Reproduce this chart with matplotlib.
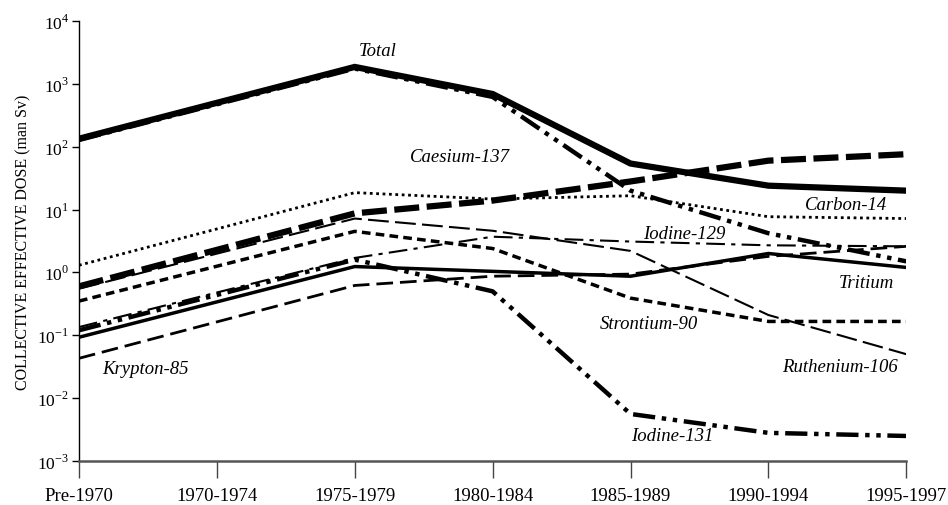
import matplotlib
matplotlib.use("Agg")
import matplotlib.pyplot as plt

plt.rcParams['font.family'] = ['Liberation Serif', 'DejaVu Serif']
plt.rcParams['mathtext.fontset'] = 'custom'
plt.rcParams['mathtext.rm'] = 'Liberation Serif'

periods = ['Pre-1970', '1970-1974', '1975-1979', '1980-1984',
           '1985-1989', '1990-1994', '1995-1997']
# no value for 1970-1974, lines run straight from Pre-1970 to 1975-1979
data_idx = [0, 2, 3, 4, 5, 6]

total = [134, 1860, 690, 54, 24, 20]
caesium137 = [128, 1750, 620, 20, 4.2, 1.5]
dotted = [1.3, 18.6, 14.7, 16.6, 7.7, 7.2]
heavy_dash = [0.6, 8.7, 13.9, 28, 60, 76]
ruthenium106 = [0.55, 7.2, 4.6, 2.2, 0.21, 0.05]
strontium90 = [0.35, 4.5, 2.4, 0.39, 0.166, 0.166]
iodine129 = [0.135, 1.7, 3.7, 3.1, 2.7, 2.6]
tritium = [0.093, 1.24, 1.04, 0.87, 2.0, 1.2]
krypton85 = [0.043, 0.62, 0.87, 0.94, 1.8, 2.6]
iodine131 = [0.12, 1.6, 0.5, 0.0056, 0.0028, 0.0025]

fig = plt.figure(figsize=(9.48, 5.06), dpi=100)
ax = fig.add_axes([0.0833, 0.087, 0.8727, 0.8695])

k = 'black'
ax.plot(data_idx, total, color=k, lw=4.5, solid_joinstyle='miter')
ax.plot(data_idx, caesium137, color=k, lw=3.2, dashes=(5, 1.5, 1, 1.5, 1, 1.5))
ax.plot(data_idx, dotted, color=k, lw=2, dashes=(1, 1.3))
ax.plot(data_idx, heavy_dash, color=k, lw=4.5, dashes=(4, 1.2))
ax.plot(data_idx, ruthenium106, color=k, lw=1.5, dashes=(10, 3))
ax.plot(data_idx, strontium90, color=k, lw=2.5, dashes=(2.5, 1.5))
ax.plot(data_idx, iodine129, color=k, lw=1.5, dashes=(9, 3, 2, 3))
ax.plot(data_idx, tritium, color=k, lw=2.5)
ax.plot(data_idx, krypton85, color=k, lw=2, dashes=(6, 2.5))
ax.plot(data_idx, iodine131, color=k, lw=3.2, dashes=(5, 1.5, 1, 1.5, 1, 1.5))

ax.set_yscale('log')
ax.set_ylim(1e-3, 1e4)
ax.set_xlim(0, 6)
ax.set_yticks([1e-3, 1e-2, 1e-1, 1e0, 1e1, 1e2, 1e3, 1e4])
ax.set_yticklabels([r'$10^{-3}$', r'$10^{-2}$', r'$10^{-1}$', r'$10^{0}$',
                    r'$10^{1}$', r'$10^{2}$', r'$10^{3}$', r'$10^{4}$'])
ax.minorticks_off()
ax.set_xticks(range(len(periods)))
ax.set_xticklabels(periods)
ax.tick_params(axis='y', length=5, width=1, labelsize=12.5, pad=2)
ax.tick_params(axis='x', length=12, width=1, labelsize=13.5, pad=7, color='#444444')
ax.spines['top'].set_visible(False)
ax.spines['right'].set_visible(False)
ax.spines['bottom'].set_color('#555555')
ax.spines['bottom'].set_linewidth(1.8)
ax.spines['left'].set_linewidth(1)
ax.set_ylabel('COLLECTIVE EFFECTIVE DOSE (man Sv)', fontsize=11.5, labelpad=4)

# series labels
labels = [
    ('Total', 378, 52),
    ('Caesium-137', 460, 158),
    ('Carbon-14', 846, 206),
    ('Iodine-129', 684, 235),
    ('Tritium', 866, 283),
    ('Strontium-90', 649, 325),
    ('Ruthenium-106', 840, 368),
    ('Iodine-131', 672, 437),
    ('Krypton-85', 145, 369),
]
for name, px, py in labels:
    fig.text(px / 948, 1 - py / 506, name, fontsize=13.5, style='italic',
             ha='center', va='center')

fig.savefig('out.png', dpi=100)
